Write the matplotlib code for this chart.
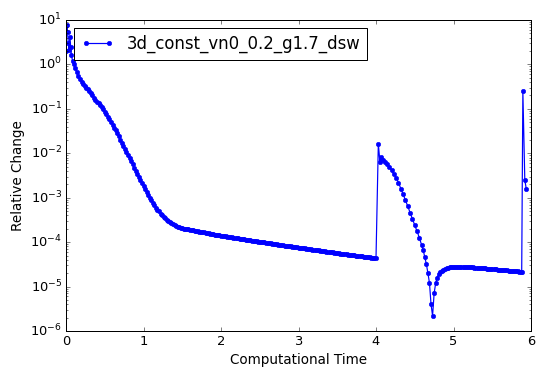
import matplotlib
matplotlib.use("Agg")
import matplotlib.pyplot as plt

plt.style.use('classic')

label = "3d_const_vn0_0.2_g1.7_dsw"

# initial oscillation
t_start = [0.00, 0.01, 0.02, 0.03, 0.04, 0.05, 0.06, 0.07, 0.085]
v_start = [2.0, 7.6, 5.5, 3.0, 2.1, 4.2, 2.5, 1.6, 1.2]

# first decay
t_decay = [
    0.10, 0.12, 0.14, 0.16, 0.18, 0.20, 0.22, 0.24, 0.26, 0.28,
    0.30, 0.32, 0.34, 0.36, 0.38, 0.40, 0.42, 0.44, 0.46, 0.48,
    0.50, 0.52, 0.54, 0.56, 0.58, 0.60, 0.62, 0.64, 0.66, 0.68,
    0.70, 0.72, 0.74, 0.76, 0.78, 0.80, 0.82, 0.84, 0.86, 0.88,
    0.90, 0.92, 0.94, 0.96, 0.98, 1.00, 1.02, 1.04, 1.06, 1.08,
    1.10, 1.12, 1.14, 1.16, 1.18, 1.20, 1.22, 1.24, 1.26, 1.28,
    1.30, 1.32, 1.34, 1.36, 1.38, 1.40, 1.42, 1.44, 1.46, 1.48,
    1.50,
]
v_decay = [
    1.0, 0.82, 0.66, 0.55, 0.47, 0.40, 0.36, 0.325, 0.30, 0.275,
    0.25, 0.225, 0.20, 0.18, 0.16, 0.145, 0.133, 0.121, 0.11, 0.098,
    0.087, 0.076, 0.066, 0.058, 0.050, 0.044, 0.038, 0.033, 0.028, 0.024,
    0.020, 0.017, 0.0145, 0.0123, 0.0105, 0.0090, 0.0077, 0.0066, 0.0056, 0.0047,
    0.0040, 0.0034, 0.0029, 0.0025, 0.0021, 0.0018, 0.00155, 0.00133, 0.00115, 0.00100,
    0.00088, 0.00077, 0.00068, 0.00060, 0.00054, 0.00049, 0.00044, 0.00040, 0.00037, 0.000345,
    0.00032, 0.00030, 0.00028, 0.000265, 0.00025, 0.00024, 0.00023, 0.000222, 0.000215, 0.00021,
    0.000205,
]

# slow plateau decay
t_plateau = [
    1.52, 1.54, 1.56, 1.58, 1.60, 1.62, 1.64, 1.66, 1.68, 1.70,
    1.72, 1.74, 1.76, 1.78, 1.80, 1.82, 1.84, 1.86, 1.88, 1.90,
    1.92, 1.94, 1.96, 1.98, 2.00, 2.02, 2.04, 2.06, 2.08, 2.10,
    2.12, 2.14, 2.16, 2.18, 2.20, 2.22, 2.24, 2.26, 2.28, 2.30,
    2.32, 2.34, 2.36, 2.38, 2.40, 2.42, 2.44, 2.46, 2.48, 2.50,
    2.52, 2.54, 2.56, 2.58, 2.60, 2.62, 2.64, 2.66, 2.68, 2.70,
    2.72, 2.74, 2.76, 2.78, 2.80, 2.82, 2.84, 2.86, 2.88, 2.90,
    2.92, 2.94, 2.96, 2.98, 3.00, 3.02, 3.04, 3.06, 3.08, 3.10,
    3.12, 3.14, 3.16, 3.18, 3.20, 3.22, 3.24, 3.26, 3.28, 3.30,
    3.32, 3.34, 3.36, 3.38, 3.40, 3.42, 3.44, 3.46, 3.48, 3.50,
    3.52, 3.54, 3.56, 3.58, 3.60, 3.62, 3.64, 3.66, 3.68, 3.70,
    3.72, 3.74, 3.76, 3.78, 3.80, 3.82, 3.84, 3.86, 3.88, 3.90,
    3.92, 3.94, 3.96, 3.98, 4.00,
]
v_plateau = [
    2.02e-4, 2.0e-4, 1.97e-4, 1.95e-4, 1.91e-4, 1.88e-4, 1.85e-4, 1.82e-4, 1.79e-4, 1.76e-4,
    1.73e-4, 1.70e-4, 1.67e-4, 1.65e-4, 1.62e-4, 1.60e-4, 1.57e-4, 1.55e-4, 1.52e-4, 1.50e-4,
    1.48e-4, 1.46e-4, 1.44e-4, 1.42e-4, 1.40e-4, 1.38e-4, 1.36e-4, 1.34e-4, 1.32e-4, 1.31e-4,
    1.29e-4, 1.28e-4, 1.26e-4, 1.25e-4, 1.23e-4, 1.22e-4, 1.20e-4, 1.19e-4, 1.17e-4, 1.16e-4,
    1.14e-4, 1.13e-4, 1.11e-4, 1.10e-4, 1.08e-4, 1.07e-4, 1.06e-4, 1.05e-4, 1.03e-4, 1.02e-4,
    1.01e-4, 1.00e-4, 9.85e-5, 9.7e-5, 9.6e-5, 9.5e-5, 9.4e-5, 9.3e-5, 9.15e-5, 9.0e-5,
    8.9e-5, 8.8e-5, 8.7e-5, 8.6e-5, 8.5e-5, 8.4e-5, 8.3e-5, 8.2e-5, 8.1e-5, 8.0e-5,
    7.9e-5, 7.8e-5, 7.7e-5, 7.6e-5, 7.52e-5, 7.45e-5, 7.37e-5, 7.3e-5, 7.2e-5, 7.1e-5,
    7.02e-5, 6.95e-5, 6.87e-5, 6.8e-5, 6.72e-5, 6.65e-5, 6.57e-5, 6.5e-5, 6.42e-5, 6.35e-5,
    6.27e-5, 6.2e-5, 6.12e-5, 6.05e-5, 5.97e-5, 5.9e-5, 5.85e-5, 5.8e-5, 5.75e-5, 5.7e-5,
    5.62e-5, 5.55e-5, 5.5e-5, 5.45e-5, 5.4e-5, 5.35e-5, 5.27e-5, 5.2e-5, 5.15e-5, 5.1e-5,
    5.05e-5, 5.0e-5, 4.95e-5, 4.9e-5, 4.85e-5, 4.8e-5, 4.75e-5, 4.7e-5, 4.65e-5, 4.6e-5,
    4.55e-5, 4.5e-5, 4.45e-5, 4.4e-5, 4.35e-5,
]

# spike at t ~ 4 and second decay down to the dip
t_spike = [
    4.03, 4.05, 4.06, 4.07, 4.09, 4.11, 4.14, 4.17, 4.20, 4.23,
    4.26, 4.29, 4.32, 4.35, 4.38, 4.41, 4.44, 4.47, 4.50, 4.53,
    4.56, 4.59, 4.61, 4.63, 4.65, 4.67, 4.69, 4.71, 4.73, 4.75,
    4.77, 4.79,
]
v_spike = [
    0.0165, 6.5e-3, 7.5e-3, 8.2e-3, 7.0e-3, 6.4e-3, 5.8e-3, 5.0e-3, 4.2e-3, 3.4e-3,
    2.8e-3, 2.2e-3, 1.6e-3, 1.2e-3, 8.8e-4, 6.4e-4, 4.6e-4, 3.3e-4, 2.4e-4, 1.75e-4,
    1.25e-4, 8.5e-5, 6.5e-5, 4.6e-5, 3.2e-5, 2.0e-5, 1.2e-5, 4.0e-6, 2.2e-6, 7.0e-6,
    1.2e-5, 1.6e-5,
]

# recovery and second plateau
t_recover = [
    4.81, 4.83, 4.85, 4.87, 4.89, 4.91, 4.93, 4.95, 4.97, 4.99,
    5.01, 5.03, 5.05, 5.07, 5.09, 5.11, 5.13, 5.15, 5.17, 5.19,
    5.21, 5.23, 5.25, 5.27, 5.29, 5.31, 5.33, 5.35, 5.37, 5.39,
    5.41, 5.43, 5.45, 5.47, 5.49, 5.51, 5.53, 5.55, 5.57, 5.59,
    5.61, 5.63, 5.65, 5.67, 5.69, 5.71, 5.73, 5.75, 5.77, 5.79,
    5.81, 5.83, 5.85, 5.87, 5.88,
]
v_recover = [
    1.9e-5, 2.1e-5, 2.25e-5, 2.4e-5, 2.5e-5, 2.6e-5, 2.68e-5, 2.72e-5, 2.75e-5, 2.78e-5,
    2.8e-5, 2.8e-5, 2.82e-5, 2.8e-5, 2.78e-5, 2.8e-5, 2.78e-5, 2.76e-5, 2.75e-5, 2.73e-5,
    2.72e-5, 2.7e-5, 2.7e-5, 2.68e-5, 2.66e-5, 2.64e-5, 2.62e-5, 2.6e-5, 2.6e-5, 2.58e-5,
    2.56e-5, 2.54e-5, 2.52e-5, 2.5e-5, 2.5e-5, 2.48e-5, 2.46e-5, 2.44e-5, 2.42e-5, 2.4e-5,
    2.4e-5, 2.38e-5, 2.36e-5, 2.34e-5, 2.32e-5, 2.3e-5, 2.3e-5, 2.28e-5, 2.26e-5, 2.24e-5,
    2.22e-5, 2.2e-5, 2.17e-5, 2.13e-5, 2.1e-5,
]

# final spike
t_end = [5.895, 5.92, 5.94]
v_end = [0.25, 2.5e-3, 1.55e-3]

time = t_start + t_decay + t_plateau + t_spike + t_recover + t_end
rel_change = v_start + v_decay + v_plateau + v_spike + v_recover + v_end

dpi = 72
fig = plt.figure(figsize=(545 / dpi, 380 / dpi), dpi=dpi, facecolor='white')
ax = fig.add_axes([66 / 545, 1 - 331 / 380, (531 - 66) / 545, (331 - 20) / 380])
ax.plot(time, rel_change, 'b.-', label=label, markersize=9, linewidth=1.2)
ax.set_yscale('log')
ax.set_xlim(0, 6)
ax.set_ylim(1e-6, 10)
ax.tick_params(labelsize=13)
ax.set_xlabel('Computational Time', fontsize=13.5)
ax.set_ylabel('Relative Change', fontsize=13.5)
ax.legend(loc='upper left', prop={'size': 16.5})
fig.savefig('out.png', dpi=dpi, facecolor='white')
